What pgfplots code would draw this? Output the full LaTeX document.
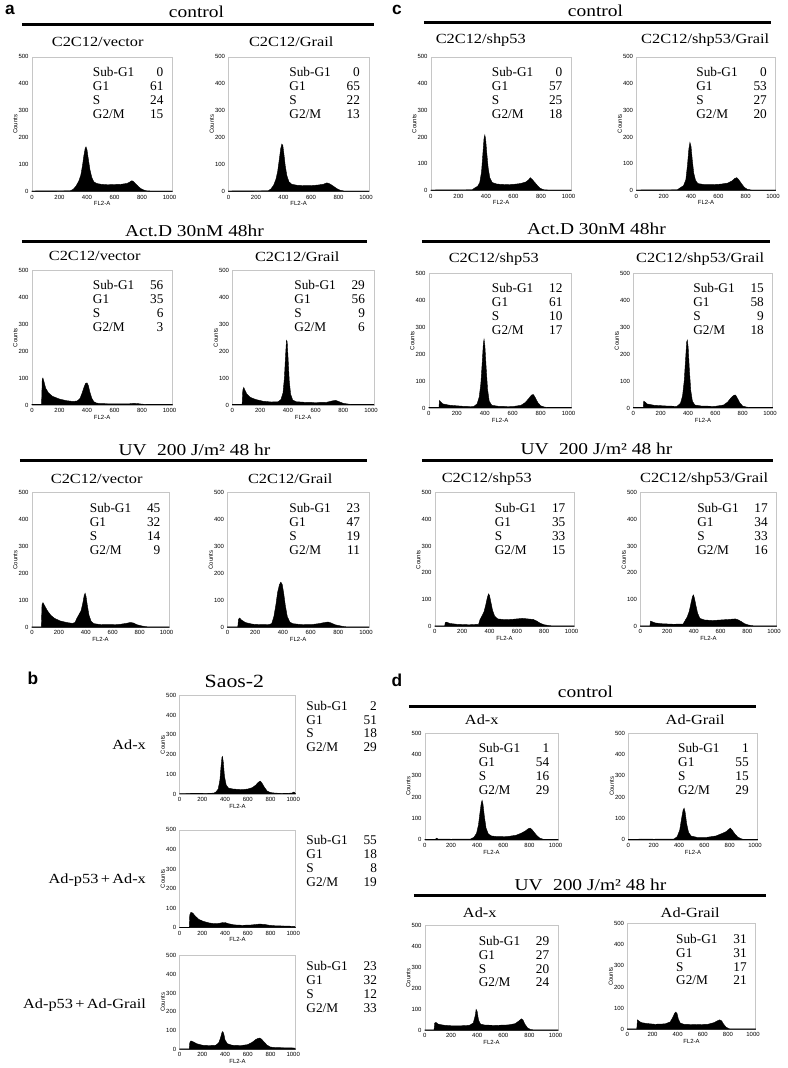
\documentclass[border=0pt]{standalone}
\usepackage{pgfplots}
\pgfplotsset{compat=1.18}
\usepackage{fontspec}
\setmainfont{Liberation Serif}
\setsansfont{Liberation Sans}
\newfontfamily\wide{Liberation Serif}[FakeStretch=1.17]
\newcommand{\tinyfont}{\sffamily\fontsize{4.5}{5}\selectfont}
\newcommand{\statfont}{\fontsize{10}{10.5}\selectfont}
\newcommand{\subfont}{\wide\fontsize{10.5}{12}\selectfont}
\newcommand{\headfont}{\wide\fontsize{12.5}{14}\selectfont}
\newcommand{\stats}[4]{\makebox[39pt][l]{Sub-G1}\makebox[14pt][r]{#1}\\%
  \makebox[39pt][l]{G1}\makebox[14pt][r]{#2}\\%
  \makebox[39pt][l]{S}\makebox[14pt][r]{#3}\\%
  \makebox[39pt][l]{G2/M}\makebox[14pt][r]{#4}}
\newcommand{\inside}[4]{\node[anchor=north east,align=left,inner sep=0pt,font=\statfont,xshift=-6.5pt,yshift=-7.5pt] at (rel axis cs:1,1) {\stats{#1}{#2}{#3}{#4}};}
\newcommand{\outside}[4]{\node[anchor=north west,align=left,inner sep=0pt,font=\statfont,xshift=8pt,yshift=-4pt] at (rel axis cs:1,1) {\stats{#1}{#2}{#3}{#4}};}
\pgfplotsset{
  facs/.style={
    scale only axis, xmin=0, xmax=1020, ymin=0, ymax=500,
    xtick={0,200,...,1000}, ytick={0,100,...,500},
    axis line style={gray!45, line width=0.4pt},
    tick style={draw=none},
    ticklabel style={font=\tinyfont},
    /pgf/number format/assume math mode=true,
    /pgf/number format/set thousands separator={},
    xlabel={FL2-A}, ylabel={Counts},
    label style={font=\tinyfont},
    xticklabel style={yshift=1pt}, yticklabel style={xshift=1pt},
    xlabel style={yshift=5pt}, ylabel style={yshift=-6pt},
    clip=false,
  }
}
% #1 x of 0, #2 x of 1000, #3 y of 500, #4 y of 0 (pixels), #5 stats, #6 data
\newcommand{\hist}[6]{%
  \pgfmathsetmacro\W{(#2-#1)*1.02*0.75}%
  \pgfmathsetmacro\H{(#4-#3)*0.75}%
  \begin{axis}[facs, width=\W pt, height=\H pt, anchor=south west,
      at={({#1*0.75pt},{-#4*0.75pt})}]
    \addplot[fill=black, draw=black, line width=0.3pt] coordinates {#6} \closedcycle;
    #5
  \end{axis}}
\begin{document}
\begin{tikzpicture}
\begin{scope}[x=0.75pt, y=-0.75pt]
  \path[use as bounding box] (0,0) rectangle (790,1068);
  % panel labels
  \foreach \l/\x/\y in {a/10/10, b/33/680, c/398/10, d/398/682}
    \node[font=\sffamily\bfseries\fontsize{13}{14}\selectfont] at (\x,\y) {\l};
  % header lines
  \foreach \y/\xa/\xb in {25/22/375, 242/22/368, 462/20/368, 23/425/773, 242/423/772, 462/423/775, 708/410/758, 898/415/768}
    \draw[line width=2.2pt] (\xa,\y) -- (\xb,\y);
  \node[font=\headfont] at (197,12) {control};
  \node[font=\headfont] at (195,231) {Act.D 30nM 48hr};
  \node[font=\headfont] at (195,451) {UV\,\, 200 J/m² 48 hr};
  \node[font=\headfont] at (597,11) {control};
  \node[font=\headfont] at (598,229) {Act.D 30nM 48hr};
  \node[font=\headfont] at (598,450) {UV\,\, 200 J/m² 48 hr};
  \node[font=\headfont] at (587,694) {control};
  \node[font=\headfont] at (592,887) {UV\,\, 200 J/m² 48 hr};
  \node[font=\wide\fontsize{14}{16}\selectfont] at (235,683) {Saos-2};
  % sub titles
  \foreach \x/\y/\t in {98/42/C2C12\slash vector, 292/42/C2C12\slash Grail,
      95/257/C2C12\slash vector, 298/257/C2C12\slash Grail,
      97/480/C2C12\slash vector, 291/480/C2C12\slash Grail,
      482/40/C2C12\slash shp53, 707/40/C2C12\slash shp53\slash Grail,
      495/260/C2C12\slash shp53, 702/260/C2C12\slash shp53\slash Grail,
      488/480/C2C12\slash shp53, 706/480/C2C12\slash shp53\slash Grail,
      483/722/Ad-x, 697/722/Ad-Grail, 481/915/Ad-x, 692/915/Ad-Grail}
    \node[font=\subfont] at (\x,\y) {\t};
  \node[font=\subfont, anchor=east] at (151,747) {Ad-x};
  \node[font=\subfont, anchor=east] at (151,882) {Ad-p53\,+\,Ad-x};
  \node[font=\subfont, anchor=east] at (151,1008) {Ad-p53\,+\,Ad-Grail};
\end{scope}

% panel a
\hist{32}{170}{57}{192}{\inside{0}{61}{24}{15}}{(0,2)(280,3)(300,8)(320,20)(340,38)(355,60)(367,95)(378,135)(387,160)(393,166)(400,155)(410,120)(422,80)(435,52)(450,36)(470,30)(500,27)(550,25)(600,26)(650,27)(690,30)(710,35)(725,40)(735,38)(750,30)(770,20)(790,11)(810,6)(830,3)(860,2)(1020,2)}
\hist{229}{367}{57}{192}{\inside{0}{65}{22}{13}}{(0,2)(290,3)(310,10)(330,25)(345,45)(358,75)(370,120)(380,160)(388,176)(395,172)(403,140)(413,95)(425,58)(440,36)(460,27)(500,23)(550,22)(600,22)(650,24)(690,27)(715,32)(730,30)(750,24)(770,17)(790,10)(810,5)(840,2)(1020,2)}
\hist{32}{170}{271}{406}{\inside{56}{35}{6}{3}}{(0,2)(70,2)(75,95)(80,100)(90,82)(100,62)(120,45)(150,32)(200,22)(250,16)(300,13)(330,15)(350,25)(365,45)(380,68)(390,80)(400,82)(410,72)(420,50)(435,25)(450,12)(470,7)(500,5)(600,4)(700,4)(740,6)(770,5)(800,3)(850,2)(1020,2)}
\hist{233}{372}{271}{406}{\inside{29}{56}{9}{6}}{(0,2)(70,2)(75,55)(82,65)(90,55)(105,40)(130,28)(170,20)(220,14)(280,11)(330,12)(350,20)(365,45)(375,100)(383,180)(390,240)(395,235)(402,170)(410,90)(420,40)(435,18)(460,12)(520,10)(600,9)(680,10)(720,15)(745,17)(770,12)(800,6)(840,3)(860,2)(1020,2)}
\hist{32}{167}{494}{629}{\inside{45}{32}{14}{9}}{(0,2)(70,2)(75,85)(82,92)(95,80)(115,62)(140,45)(170,33)(210,24)(260,18)(300,15)(320,18)(335,35)(350,48)(365,62)(378,90)(388,118)(395,127)(402,115)(412,80)(424,45)(440,22)(460,14)(500,11)(550,10)(650,11)(700,15)(730,18)(750,17)(780,10)(820,5)(860,2)(1020,2)}
\hist{228}{367}{494}{629}{\inside{23}{47}{19}{11}}{(0,2)(75,2)(80,30)(88,35)(100,28)(130,18)(180,12)(250,10)(305,11)(320,15)(335,40)(350,85)(362,130)(375,158)(385,168)(395,160)(405,130)(418,80)(432,40)(450,20)(470,14)(520,11)(600,10)(660,14)(700,18)(725,20)(745,17)(775,10)(820,5)(860,2)(1020,2)}

% panel c
\hist{432}{570}{57}{191}{\inside{0}{57}{25}{18}}{(0,2)(300,3)(320,10)(340,16)(355,30)(368,70)(378,140)(386,195)(392,208)(398,190)(406,140)(416,85)(428,48)(445,30)(480,24)(550,22)(600,23)(650,26)(690,32)(710,40)(722,48)(735,42)(755,30)(775,18)(795,8)(820,3)(850,2)(1020,2)}
\hist{638}{775}{57}{191}{\inside{0}{53}{27}{20}}{(0,2)(300,3)(320,10)(345,18)(362,40)(374,95)(384,155)(392,180)(400,165)(409,115)(420,65)(433,38)(450,26)(500,22)(560,22)(620,24)(670,28)(700,36)(720,45)(735,48)(750,40)(770,25)(790,12)(810,5)(840,2)(1020,2)}
\hist{430}{570}{274}{409}{\inside{12}{61}{10}{17}}{(0,2)(72,2)(76,28)(85,22)(100,15)(150,10)(250,6)(320,5)(345,15)(360,40)(372,90)(382,170)(390,240)(395,255)(401,230)(410,150)(420,70)(432,25)(450,10)(500,6)(600,5)(660,10)(690,20)(715,35)(735,48)(748,50)(762,38)(780,20)(800,8)(830,3)(860,2)(1020,2)}
\hist{635}{772}{274}{409}{\inside{15}{58}{9}{18}}{(0,2)(72,2)(76,25)(85,22)(100,15)(150,10)(250,7)(320,6)(345,18)(360,45)(372,100)(382,180)(390,245)(395,252)(401,225)(410,140)(420,65)(432,25)(450,11)(500,7)(600,6)(660,11)(690,22)(715,38)(735,47)(748,48)(762,35)(780,18)(800,7)(830,3)(860,2)(1020,2)}
\hist{436}{573}{494}{628}{\inside{17}{35}{33}{15}}{(0,2)(72,2)(76,14)(85,16)(110,11)(160,8)(250,6)(320,8)(330,25)(345,40)(360,55)(372,80)(385,110)(393,122)(400,115)(410,90)(422,60)(438,38)(460,28)(520,25)(580,27)(640,30)(680,28)(720,26)(745,20)(770,12)(800,6)(840,3)(860,2)(1020,2)}
\hist{642}{776}{494}{628}{\inside{17}{34}{33}{16}}{(0,2)(72,2)(76,20)(85,18)(110,13)(160,10)(250,8)(320,9)(335,22)(350,35)(365,55)(378,85)(390,112)(397,118)(405,105)(415,80)(428,50)(445,30)(480,24)(540,22)(600,24)(660,26)(710,28)(730,25)(755,18)(780,10)(810,5)(850,2)(1020,2)}

% panel b
\hist{180}{294}{697}{796}{\outside{2}{51}{18}{29}}{(0,2)(300,4)(320,10)(340,25)(355,70)(365,140)(373,185)(378,190)(385,160)(395,90)(410,45)(430,30)(470,25)(550,22)(600,25)(640,32)(670,45)(695,60)(710,65)(725,55)(745,35)(770,15)(800,7)(850,4)(950,3)(990,5)(1005,10)(1015,6)(1020,2)}
\hist{180}{294}{832}{930}{\outside{55}{18}{8}{19}}{(0,2)(85,2)(90,65)(100,78)(115,75)(140,58)(170,42)(210,32)(260,24)(310,20)(350,22)(380,26)(400,26)(430,20)(480,14)(550,12)(620,13)(670,16)(700,18)(740,17)(790,12)(850,9)(950,8)(1010,6)(1020,2)}
\hist{180}{294}{958}{1052}{\outside{23}{32}{12}{33}}{(0,2)(85,2)(90,35)(100,45)(120,40)(150,30)(200,22)(260,20)(320,22)(345,35)(360,60)(372,88)(380,95)(388,85)(400,50)(420,30)(460,22)(540,20)(600,25)(640,38)(670,52)(690,58)(705,60)(720,55)(745,38)(770,22)(800,12)(850,9)(950,8)(1010,7)(1020,2)}

% panel d
\hist{426}{557}{735}{842}{\inside{1}{54}{16}{29}}{(0,2)(80,3)(90,8)(100,4)(200,3)(350,4)(375,12)(395,30)(410,70)(422,130)(432,175)(438,185)(445,165)(455,110)(468,55)(485,28)(510,18)(560,15)(640,16)(700,22)(740,32)(770,42)(790,52)(805,55)(820,48)(840,32)(860,18)(880,8)(905,3)(940,2)(1020,2)}
\hist{630}{757}{735}{842}{\inside{1}{55}{15}{29}}{(0,2)(80,3)(100,4)(200,3)(360,4)(385,15)(405,45)(420,100)(432,140)(440,148)(448,130)(460,75)(475,35)(495,18)(540,12)(620,12)(690,18)(740,30)(770,38)(790,48)(805,55)(820,45)(840,28)(860,15)(885,6)(910,2)(1020,2)}
\hist{426}{557}{928}{1033}{\inside{29}{27}{20}{24}}{(0,2)(70,2)(75,35)(85,38)(100,30)(140,25)(200,22)(280,22)(340,24)(370,35)(385,70)(392,100)(400,90)(410,50)(425,30)(460,25)(550,24)(640,26)(690,32)(720,45)(738,55)(750,50)(765,30)(785,12)(810,4)(840,2)(1020,2)}
\hist{629}{755}{926}{1032}{\inside{31}{31}{17}{21}}{(0,2)(75,2)(80,45)(90,40)(110,32)(150,28)(220,24)(300,26)(340,35)(360,55)(375,75)(385,82)(395,75)(405,50)(420,30)(450,24)(550,22)(640,24)(690,32)(715,40)(735,45)(750,40)(765,25)(785,10)(810,3)(840,2)(1020,2)}
\end{tikzpicture}
\end{document}
